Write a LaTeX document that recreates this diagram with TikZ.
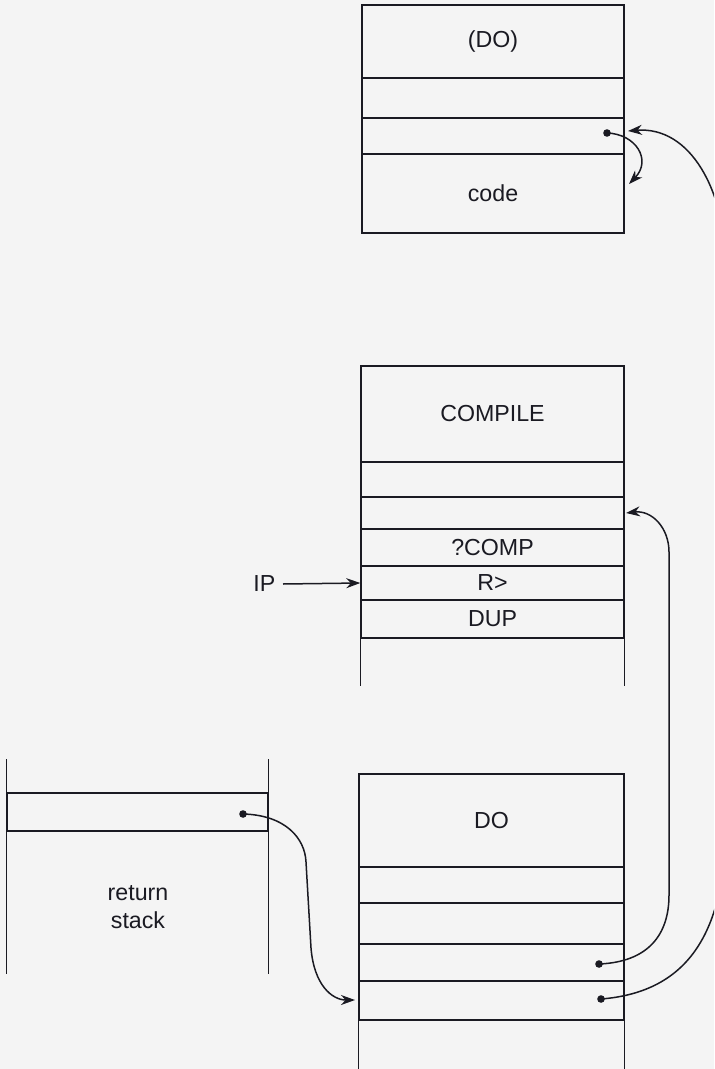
\documentclass[tikz,border=0pt]{standalone}
\usepackage{fontspec}
\setmainfont{Liberation Sans}
\usetikzlibrary{arrows.meta}
\definecolor{bg}{HTML}{F4F4F4}
\definecolor{ink}{HTML}{1A1A22}
\begin{document}
\begin{tikzpicture}[x=0.5pt,y=-0.5pt,
  line width=0.7pt, draw=ink,
  cellA/.style={draw=ink, inner sep=0pt, minimum width=131pt, font=\fontsize{11.6}{13}\selectfont, text=ink},
  cellB/.style={cellA, minimum width=131.5pt},
  cellC/.style={cellA, minimum width=132.5pt},
  cellD/.style={cellA, minimum width=130.5pt},
  lbl/.style={inner sep=0pt, font=\fontsize{11.6}{14}\selectfont, text=ink, align=center},
  ptr/.style={draw=ink, line width=0.75pt, -{Stealth[length=7pt,width=5pt]}},
  dotc/.style={circle, fill=ink, inner sep=0pt, minimum size=3.8pt}]
\fill[bg] (0,0) rectangle (714,1069);
\useasboundingbox (0,0) rectangle (714,1069);
\clip (0,0) rectangle (714,1069);

% top box (DO)
\node[cellA, minimum height=36.5pt] (t1) at (493,41.5) {(DO)};
\node[cellA, minimum height=20pt] (t2) at (493,98) {};
\node[cellA, minimum height=18pt] (t3) at (493,136) {};
\node[cellA, minimum height=39.5pt] (t4) at (493,193.5) {code};

% middle box COMPILE
\node[cellB, minimum height=48pt] (m1) at (492.5,414) {COMPILE};
\node[cellB, minimum height=17.5pt] (m2) at (492.5,479.5) {};
\node[cellB, minimum height=16pt] (m3) at (492.5,513) {};
\node[cellB, minimum height=18.5pt] (m4) at (492.5,547.5) {?COMP};
\node[cellB, minimum height=17pt] (m5) at (492.5,583) {R>};
\node[cellB, minimum height=19pt] (m6) at (492.5,619) {DUP};
\draw (m6.south west) -- ++(0,47);
\draw (m6.south east) -- ++(0,47);

% bottom box DO
\node[cellC, minimum height=46.5pt] (d1) at (491.5,820.5) {DO};
\node[cellC, minimum height=18pt] (d2) at (491.5,885) {};
\node[cellC, minimum height=20.5pt] (d3) at (491.5,923.5) {};
\node[cellC, minimum height=18.5pt] (d4) at (491.5,962.5) {};
\node[cellC, minimum height=19.5pt] (d5) at (491.5,1000.5) {};
\draw (d5.south west) -- ++(0,60);
\draw (d5.south east) -- ++(0,60);

% return stack
\node[cellD, minimum height=19pt] (r1) at (137.5,812) {};
\draw (r1.north west) -- ++(0,-33);
\draw (r1.north east) -- ++(0,-33);
\draw (r1.south west) -- ++(0,142);
\draw (r1.south east) -- ++(0,142);
\node[lbl] (rs) at (138,907) {return\\stack};

% IP
\node[lbl, anchor=east] (ip) at (276,584) {IP};
\coordinate (ipend) at (m5.west);

% dots
\node[dotc] (tdot) at (607,133) {};
\node[dotc] (ddot1) at (599,964) {};
\node[dotc] (ddot2) at (601,999) {};
\node[dotc] (rdot) at (243,814) {};

% target points
\coordinate (tin) at (628,131);
\coordinate (tout) at (629,184);
\coordinate (min) at (626,513);
\coordinate (din) at (355,1000);

% connectors
\draw[ptr] (ip.east) ++(7,0) -- (ipend);
\draw[ptr] (tdot.center) .. controls (636,134) and (652,160) .. (tout);
\draw[ptr] (ddot2.center) .. controls (690,992) and (726,930) .. (726,820)
   -- (726,270) .. controls (726,190) and (690,126) .. (tin);
\draw[ptr] (ddot1.center) .. controls (648,962) and (669,935) .. (669,895)
   -- (669,552) .. controls (669,528) and (652,510) .. (min);
\draw[ptr] (rdot.center) .. controls (285,815) and (305,838) .. (306,862)
   -- (311,948) .. controls (314,985) and (332,1000) .. (din);
\end{tikzpicture}
\end{document}
